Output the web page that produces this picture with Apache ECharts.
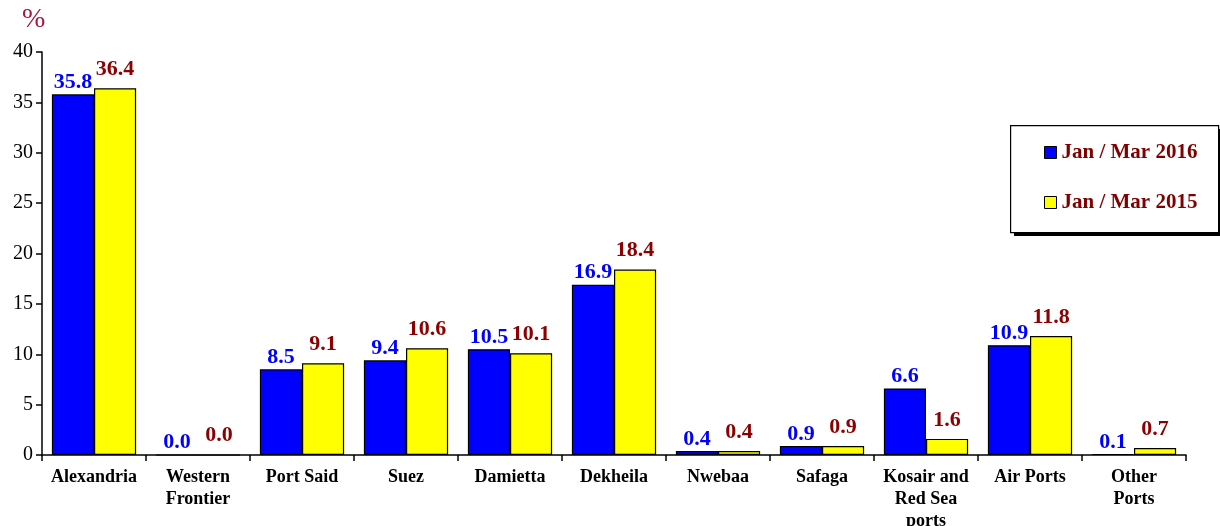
<!DOCTYPE html>
<html><head><meta charset="utf-8">
<script src="https://cdn.jsdelivr.net/npm/echarts@6/dist/echarts.min.js"></script>
<style>html,body{margin:0;padding:0;background:#fff}#c{width:1220px;height:526px}</style>
</head><body><div id="c"></div>
<script>
const categories = ['Alexandria','Western\nFrontier','Port Said','Suez','Damietta','Dekheila','Nwebaa','Safaga','Kosair and\nRed Sea\nports','Air Ports','Other\nPorts'];
const values2016 = [35.8,0.0,8.5,9.4,10.5,16.9,0.4,0.9,6.6,10.9,0.1];
const values2015 = [36.4,0.0,9.1,10.6,10.1,18.4,0.4,0.9,1.6,11.8,0.7];
const yTicks = [0,5,10,15,20,25,30,35,40];

const serif = '"Liberation Serif", "Times New Roman", serif';
const chart = echarts.init(document.getElementById('c'));
chart.setOption({
  animation:false,
  backgroundColor:'#fff',
  grid:{left:42,right:34,top:52,bottom:71,containLabel:false,outerBoundsMode:'none'},
  graphic:[
    {type:'text',left:22,top:6,z:10,style:{text:'%',fill:'#A01846',font:'28px '+serif,shadowColor:'rgba(0,0,0,0.3)',shadowBlur:2,shadowOffsetX:2,shadowOffsetY:2}},
    {type:'rect',left:1014,top:129,z:0,shape:{width:210,height:107},style:{fill:'#000'}},
    {type:'rect',left:1010,top:125,z:1,shape:{width:208,height:107},style:{fill:'#fff',stroke:'#000',lineWidth:1.2}}
  ],
  legend:{
    orient:'vertical',left:1044,top:142,z:5,
    padding:0,itemGap:29,
    itemWidth:12,itemHeight:12,icon:'rect',
    itemStyle:{borderColor:'#000',borderWidth:1},
    textStyle:{color:'#800000',fontFamily:serif,fontWeight:'bold',fontSize:21},
    data:['Jan / Mar 2016','Jan / Mar 2015']
  },
  xAxis:{type:'category',data:categories,
    axisLine:{lineStyle:{color:'#000',width:1.5}},
    axisTick:{show:true,length:6,lineStyle:{color:'#000',width:1.5}},
    axisLabel:{color:'#000',fontFamily:serif,fontWeight:'bold',fontSize:18,lineHeight:22,margin:11,interval:0}
  },
  yAxis:{type:'value',min:0,max:40,interval:5,
    splitLine:{show:false},
    axisLine:{show:true,lineStyle:{color:'#000',width:1.5}},
    axisTick:{show:true,length:6,lineStyle:{color:'#000',width:1.5}},
    axisLabel:{color:'#000',fontFamily:serif,fontSize:20,margin:9,
      formatter:v=>yTicks.includes(v)?String(v):''}
  },
  series:[
    {name:'Jan / Mar 2016',type:'bar',data:values2016,barGap:'0%',barCategoryGap:'19%',
     itemStyle:{color:'#0000FF',borderColor:'#000',borderWidth:1.2},
     label:{show:true,position:'top',distance:1,color:'#0000FF',fontFamily:serif,fontWeight:'bold',fontSize:22,formatter:p=>p.value.toFixed(1)}},
    {name:'Jan / Mar 2015',type:'bar',data:values2015,barGap:'0%',barCategoryGap:'19%',
     itemStyle:{color:'#FFFF00',borderColor:'#000',borderWidth:1.2},
     label:{show:true,position:'top',distance:8,color:'#8B0000',fontFamily:serif,fontWeight:'bold',fontSize:22,formatter:p=>p.value.toFixed(1)}}
  ]
});
</script></body></html>
